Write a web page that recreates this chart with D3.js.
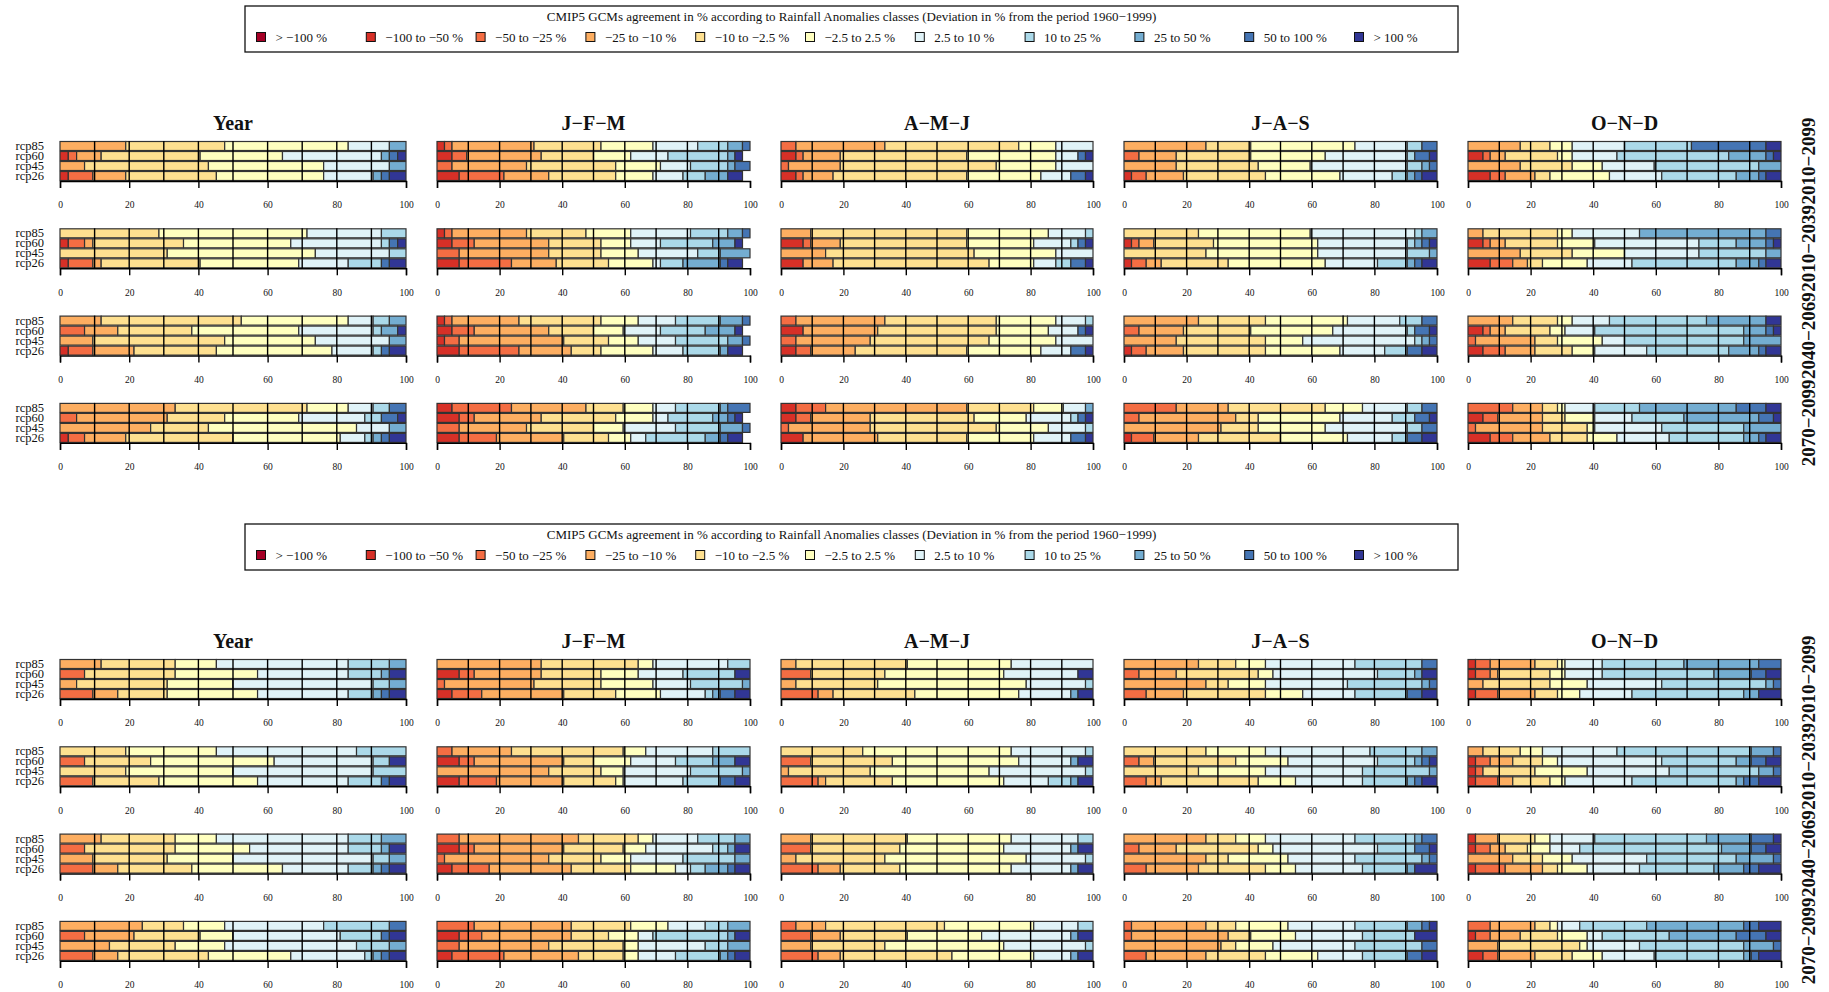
<!DOCTYPE html>
<html><head><meta charset="utf-8">
<script src="https://cdn.jsdelivr.net/npm/d3@7"></script>
<style>
body{margin:0;background:#fff}
svg{display:block}
text{font-family:"Liberation Serif","Times New Roman",serif;fill:#111}
</style>
</head><body>
<svg id="c" width="1829" height="992"></svg>
<script>
// ---------- categories / labels ----------
const classes = ["> −100 %","−100 to −50 %","−50 to −25 %","−25 to −10 %","−10 to −2.5 %","−2.5 to 2.5 %","2.5 to 10 %","10 to 25 %","25 to 50 %","50 to 100 %","> 100 %"];
const classColors = ["#a50026","#d73027","#f46d43","#fdae61","#fee090","#ffffbf","#e0f3f8","#abd9e9","#74add1","#4575b4","#313695"];
const seasons = ["Year","J−F−M","A−M−J","J−A−S","O−N−D"];
const periods = ["2010−2099","2010−2039","2040−2069","2070−2099"];
const scenarios = ["rcp85","rcp60","rcp45","rcp26"];
const xTicks = [0,20,40,60,80,100];
const xGrid = [10,20,30,40,50,60,70,80,90];
const legendTitle = "CMIP5 GCMs agreement in % according to Rainfall Anomalies classes (Deviation in % from the period 1960−1999)";

// ---------- data: cumulative % of GCMs reaching the upper end of each class ("class:cum%") ----------
// per season: 4 periods x 4 scenarios (rcp85, rcp60, rcp45, rcp26)
const topYear = [
 ["3:19 4:47.6 5:83.3 6:95.2 8:100","1:2.4 2:4.8 3:11.9 4:40.5 5:64.3 6:92.9 8:95.2 9:97.6 10:100","3:7.1 4:42.9 5:76.2 6:95.2 8:100","1:2.4 2:9.5 3:19 4:45.2 5:76.2 6:90.5 8:92.9 9:95.2 10:100"],
 ["4:28.6 5:71.4 6:92.9 7:100","1:2.4 2:7.1 3:9.5 4:35.7 5:66.7 6:92.9 7:95.2 9:97.6 10:100","4:31 5:73.8 6:95.2 7:100","1:2.4 2:9.5 3:11.9 4:40.5 5:69 6:83.3 7:92.9 9:95.2 10:100"],
 ["3:11.9 4:52.4 5:83.3 6:90.5 7:95.2 8:100","2:7.1 3:16.7 4:38.1 5:69 6:90.5 7:92.9 8:97.6 10:100","3:9.5 4:47.6 5:73.8 6:95.2 8:100","1:2.4 2:9.5 3:21.4 4:45.2 5:78.6 6:90.5 7:92.9 9:95.2 10:100"],
 ["3:33.3 4:71.4 5:83.3 6:90.5 7:95.2 9:100","2:4.8 3:31 4:47.6 5:69 6:88.1 7:92.9 9:97.6 10:100","3:26.2 4:42.9 5:85.7 6:95.2 8:100","1:2.4 2:7.1 3:19 4:50 5:81 6:88.1 7:90.5 8:92.9 9:95.2 10:100"]
];
const topJFM = [
 ["1:2.4 2:4.8 3:31 4:52.4 5:69 6:83.3 7:92.9 8:97.6 9:100","1:4.8 2:9.5 3:33.3 4:50 5:61.9 6:73.8 7:92.9 8:95.2 10:97.6","2:4.8 3:28.6 4:57.1 5:71.4 6:81 7:92.9 8:95.2 9:100","1:7.1 2:21.4 3:35.7 4:57.1 5:69 6:78.6 7:85.7 8:92.9 10:97.6"],
 ["1:2.4 2:4.8 3:28.6 4:47.6 5:61.9 6:81 7:92.9 8:97.6 9:100","1:4.8 2:11.9 3:35.7 4:52.4 5:61.9 6:71.4 7:88.1 8:95.2 10:97.6","2:7.1 3:35.7 4:52.4 5:64.3 6:83.3 7:90.5 8:100","1:7.1 2:23.8 3:38.1 4:54.8 5:69 6:71.4 7:78.6 8:90.5 9:92.9 10:97.6"],
 ["1:2.4 2:4.8 3:26.2 4:52.4 5:64.3 6:76.2 7:90.5 8:97.6 9:100","1:4.8 2:11.9 3:35.7 4:50 5:59.5 6:71.4 7:85.7 8:95.2 10:97.6","1:2.4 2:7.1 3:40.5 4:54.8 5:64.3 6:76.2 7:92.9 8:97.6 9:100","1:7.1 2:26.2 3:42.9 4:52.4 5:69 6:78.6 7:90.5 8:92.9 10:97.6"],
 ["1:4.8 2:23.8 3:47.6 4:59.5 5:69 6:76.2 7:90.5 8:92.9 9:100","1:7.1 2:11.9 3:33.3 4:57.1 5:69 6:73.8 7:88.1 8:92.9 9:95.2 10:97.6","2:7.1 3:28.6 4:50 5:59.5 6:76.2 7:90.5 8:97.6 9:100","1:7.1 2:19 3:40.5 4:54.8 5:61.9 6:66.7 7:85.7 8:90.5 9:92.9 10:97.6"]
];
const topAMJ = [
 ["2:4.8 3:33.3 4:76.2 5:88.1 6:100","1:4.8 2:7.1 3:19 4:59.5 5:88.1 6:95.2 9:97.6 10:100","2:2.4 3:19 4:69 5:88.1 6:100","1:4.8 2:7.1 3:16.7 4:59.5 5:83.3 6:92.9 9:97.6 10:100"],
 ["3:9.5 4:59.5 5:85.7 6:97.6 7:100","1:7.1 2:9.5 3:19 4:59.5 5:81 6:92.9 7:95.2 9:97.6 10:100","3:14.3 4:61.9 5:88.1 6:100","1:7.1 3:16.7 4:66.7 5:81 6:88.1 7:92.9 9:97.6 10:100"],
 ["2:4.8 3:33.3 4:69 5:88.1 6:97.6 7:100","1:7.1 3:31 4:69 5:85.7 6:95.2 9:97.6 10:100","2:4.8 3:28.6 4:66.7 5:88.1 6:100","1:4.8 2:9.5 3:23.8 4:59.5 5:83.3 6:92.9 9:97.6 10:100"],
 ["1:4.8 2:14.3 3:59.5 4:81 5:90.5 6:97.6 8:100","1:4.8 2:9.5 3:28.6 4:61.9 5:78.6 6:92.9 7:95.2 9:97.6 10:100","2:2.4 3:28.6 4:69 5:85.7 6:97.6 7:100","1:7.1 3:31 4:59.5 5:81 6:92.9 9:97.6 10:100"]
];
const topJAS = [
 ["3:26.2 4:40.5 5:73.8 6:90.5 7:95.2 9:100","2:4.8 3:16.7 4:40.5 5:64.3 6:90.5 7:92.9 9:97.6 10:100","3:16.7 4:42.9 5:59.5 6:90.5 7:95.2 8:97.6 9:100","1:2.4 2:7.1 3:19 4:45.2 5:69 6:85.7 7:90.5 8:92.9 9:95.2 10:100"],
 ["4:23.8 5:59.5 6:92.9 7:95.2 8:100","1:2.4 2:4.8 3:9.5 4:28.6 5:61.9 6:90.5 7:92.9 8:95.2 9:97.6 10:100","4:26.2 5:61.9 6:90.5 7:97.6 8:100","1:2.4 2:7.1 3:11.9 4:33.3 5:64.3 6:81 7:90.5 8:92.9 9:95.2 10:100"],
 ["3:23.8 4:45.2 5:71.4 6:88.1 7:95.2 9:100","2:4.8 3:19 4:40.5 5:66.7 6:90.5 7:92.9 9:97.6 10:100","3:16.7 4:45.2 5:57.1 6:92.9 7:95.2 8:97.6 9:100","1:2.4 2:7.1 3:19 4:45.2 5:69 6:83.3 7:90.5 9:95.2 10:100"],
 ["2:16.7 3:33.3 4:64.3 5:76.2 6:90.5 7:95.2 9:100","2:4.8 3:35.7 4:42.9 5:69 6:85.7 7:92.9 9:97.6 10:100","3:31 4:42.9 5:64.3 6:90.5 7:95.2 9:100","1:2.4 2:9.5 3:23.8 4:50 5:71.4 6:85.7 7:90.5 9:95.2 10:100"]
];
const topOND = [
 ["3:16.7 4:26.2 5:33.3 6:50 7:71.4 9:95.2 10:100","1:4.8 2:7.1 3:11.9 4:28.6 5:33.3 6:47.6 7:83.3 8:95.2 9:97.6 10:100","3:16.7 4:33.3 5:42.9 6:59.5 7:92.9 8:100","1:7.1 2:11.9 3:21.4 4:26.2 5:45.2 6:61.9 7:85.7 8:92.9 9:95.2 10:100"],
 ["3:4.8 4:28.6 5:33.3 6:54.8 8:95.2 9:100","1:4.8 2:7.1 3:11.9 4:28.6 5:40.5 6:73.8 7:85.7 8:95.2 9:97.6 10:100","3:16.7 4:33.3 5:50 6:73.8 7:95.2 8:100","1:7.1 2:14.3 3:19 4:23.8 5:38.1 6:52.4 7:85.7 8:92.9 9:95.2 10:100"],
 ["3:14.3 4:28.6 5:33.3 6:45.2 7:76.2 8:95.2 10:100","1:4.8 2:7.1 3:11.9 4:26.2 5:31 6:40.5 7:88.1 8:95.2 9:97.6 10:100","2:2.4 3:21.4 4:28.6 5:42.9 6:50 7:88.1 8:100","1:4.8 2:11.9 3:21.4 4:33.3 5:40.5 6:57.1 7:83.3 8:92.9 9:95.2 10:100"],
 ["2:14.3 3:23.8 4:28.6 5:31 6:40.5 7:54.8 8:85.7 9:95.2 10:100","1:4.8 2:9.5 3:23.8 4:31 5:40.5 6:52.4 7:69 8:92.9 9:97.6 10:100","2:2.4 3:23.8 4:38.1 5:40.5 6:61.9 7:88.1 8:100","1:7.1 2:14.3 3:26.2 4:38.1 5:47.6 6:64.3 7:88.1 8:92.9 9:95.2 10:100"]
];
const botYear = [
 ["3:11.9 4:33.3 5:45.2 6:83.3 7:95.2 8:100","2:7.1 4:33.3 5:57.1 6:83.3 7:92.9 8:95.2 10:100","3:4.8 4:31 5:50 6:90.5 7:95.2 8:100","2:9.5 3:16.7 4:31 5:57.1 6:83.3 7:90.5 8:92.9 9:95.2 10:100"],
 ["4:19 5:45.2 6:85.7 7:100","2:7.1 4:26.2 5:61.9 6:90.5 7:95.2 10:100","4:19 5:50 6:90.5 7:100","2:9.5 4:28.6 5:57.1 6:83.3 7:92.9 9:95.2 10:100"],
 ["3:11.9 4:33.3 5:45.2 6:83.3 7:92.9 8:100","2:7.1 4:33.3 5:54.8 6:83.3 7:92.9 8:95.2 10:100","3:9.5 4:31 5:50 6:90.5 7:95.2 8:100","2:9.5 3:16.7 4:38.1 5:64.3 6:83.3 7:90.5 8:92.9 9:95.2 10:100"],
 ["3:23.8 4:35.7 5:47.6 6:76.2 7:95.2 9:100","2:7.1 3:21.4 4:40.5 5:50 6:81 7:92.9 9:95.2 10:100","3:14.3 4:33.3 5:47.6 6:85.7 7:95.2 8:100","2:9.5 3:16.7 4:42.9 5:66.7 6:88.1 7:90.5 8:92.9 9:95.2 10:100"]
];
const botJFM = [
 ["3:33.3 4:64.3 5:69 6:92.9 7:100","1:7.1 2:11.9 3:33.3 4:52.4 5:64.3 6:78.6 7:95.2 10:100","2:2.4 3:31 4:52.4 5:69 6:81 7:97.6 8:100","1:4.8 2:14.3 3:40.5 4:57.1 5:71.4 6:85.7 7:88.1 8:90.5 9:95.2 10:100"],
 ["2:4.8 3:23.8 4:59.5 5:66.7 6:88.1 7:100","1:7.1 2:11.9 3:40.5 4:50 5:61.9 6:76.2 7:88.1 8:95.2 10:100","3:35.7 4:52.4 5:59.5 6:81 7:97.6 8:100","1:7.1 2:19 3:40.5 4:57.1 5:59.5 6:78.6 7:90.5 9:95.2 10:100"],
 ["2:7.1 3:45.2 4:64.3 5:69 6:83.3 7:95.2 8:100","1:7.1 2:11.9 3:40.5 4:59.5 5:66.7 6:88.1 7:92.9 8:95.2 10:100","2:2.4 3:35.7 4:52.4 5:61.9 6:78.6 7:95.2 8:100","1:4.8 2:16.7 3:42.9 4:61.9 5:76.2 6:81 7:85.7 8:92.9 9:95.2 10:100"],
 ["2:11.9 3:42.9 4:61.9 5:73.8 6:85.7 7:92.9 8:100","1:7.1 2:14.3 3:42.9 4:54.8 5:64.3 6:69 7:92.9 8:95.2 10:100","2:7.1 3:35.7 4:59.5 5:64.3 6:85.7 7:92.9 8:100","1:4.8 2:21.4 3:45.2 4:59.5 5:64.3 6:76.2 7:90.5 8:92.9 9:95.2 10:100"]
];
const botAMJ = [
 ["3:4.8 4:40.5 5:73.8 6:100","2:9.5 4:33.3 5:71.4 6:95.2 10:100","3:4.8 4:31 5:78.6 6:97.6 7:100","2:11.9 3:16.7 4:42.9 5:76.2 6:92.9 8:95.2 10:100"],
 ["4:26.2 5:73.8 6:97.6 7:100","2:9.5 4:35.7 5:76.2 6:92.9 8:95.2 10:100","3:2.4 4:28.6 5:66.7 6:97.6 7:100","2:11.9 3:14.3 4:35.7 5:71.4 6:85.7 7:92.9 8:95.2 10:100"],
 ["3:9.5 4:40.5 5:73.8 6:95.2 7:100","2:9.5 4:38.1 5:71.4 6:92.9 8:95.2 10:100","3:4.8 4:33.3 5:78.6 6:97.6 7:100","2:11.9 3:19 4:38.1 5:73.8 6:92.9 8:95.2 10:100"],
 ["2:4.8 3:14.3 4:52.4 5:81 6:95.2 7:100","2:9.5 3:19 4:40.5 5:64.3 6:92.9 8:95.2 10:100","3:9.5 4:33.3 5:71.4 6:97.6 7:100","2:11.9 3:19 4:54.8 5:81 6:92.9 8:95.2 10:100"]
];
const botJAS = [
 ["3:23.8 4:35.7 5:45.2 6:73.8 7:95.2 9:100","2:4.8 3:16.7 4:42.9 5:47.6 6:81 7:92.9 8:95.2 10:100","3:26.2 4:33.3 5:45.2 6:71.4 7:95.2 8:97.6 9:100","2:7.1 3:19 4:45.2 5:57.1 6:73.8 7:90.5 9:95.2 10:100"],
 ["4:26.2 5:45.2 6:78.6 7:95.2 8:100","2:4.8 3:9.5 4:35.7 5:52.4 6:81 7:92.9 8:95.2 9:97.6 10:100","4:23.8 5:45.2 6:76.2 7:97.6 8:100","2:7.1 3:11.9 4:42.9 5:54.8 6:76.2 7:90.5 8:92.9 9:95.2 10:100"],
 ["3:26.2 4:35.7 5:45.2 6:73.8 7:92.9 8:95.2 9:100","2:4.8 3:16.7 4:42.9 5:47.6 6:81 7:92.9 9:97.6 10:100","3:26.2 4:33.3 5:52.4 6:73.8 7:95.2 8:97.6 9:100","2:7.1 3:23.8 4:45.2 5:54.8 6:76.2 7:90.5 8:92.9 10:100"],
 ["2:2.4 3:26.2 4:35.7 5:52.4 6:73.8 7:90.5 8:95.2 9:97.6 10:100","2:2.4 3:33.3 4:40.5 5:54.8 6:76.2 7:92.9 10:100","3:31 4:35.7 5:47.6 6:73.8 7:95.2 9:100","2:7.1 3:26.2 4:45.2 5:61.9 6:76.2 7:90.5 9:95.2 10:100"]
];
const botOND = [
 ["1:2.4 2:7.1 3:21.4 4:28.6 5:31 6:42.9 7:69 8:92.9 9:100","1:2.4 2:7.1 3:9.5 4:26.2 5:31 6:42.9 7:78.6 8:90.5 9:95.2 10:100","3:4.8 4:26.2 5:38.1 6:61.9 7:95.2 8:97.6 9:100","1:2.4 2:9.5 3:21.4 4:28.6 5:35.7 6:52.4 7:88.1 8:92.9 10:100"],
 ["3:4.8 4:16.7 5:23.8 6:47.6 7:90.5 8:97.6 9:100","1:2.4 2:7.1 3:14.3 4:23.8 5:28.6 6:61.9 7:85.7 8:90.5 9:95.2 10:100","1:2.4 2:4.8 4:21.4 5:38.1 6:64.3 7:92.9 8:97.6 9:100","1:2.4 2:9.5 3:14.3 4:26.2 5:31 6:52.4 7:85.7 8:88.1 9:92.9 10:100"],
 ["1:2.4 3:9.5 4:21.4 5:26.2 6:40.5 7:76.2 8:90.5 9:97.6 10:100","1:2.4 2:7.1 3:11.9 4:19 5:26.2 6:35.7 7:81 8:90.5 9:95.2 10:100","3:14.3 4:23.8 5:33.3 6:57.1 7:85.7 8:97.6 9:100","1:2.4 2:11.9 3:23.8 4:28.6 5:38.1 6:54.8 7:78.6 8:88.1 9:92.9 10:100"],
 ["2:7.1 3:21.4 4:26.2 5:28.6 6:35.7 7:57.1 8:88.1 9:92.9 10:100","1:2.4 2:7.1 3:16.7 4:28.6 5:38.1 6:42.9 7:64.3 8:85.7 9:95.2 10:100","3:9.5 4:35.7 5:38.1 6:54.8 7:88.1 8:97.6 9:100","1:4.8 2:9.5 3:21.4 4:33.3 5:42.9 6:59.5 7:88.1 8:90.5 9:92.9 10:100"]
];

// ---------- layout ----------
const halves = [
  {dy: 0,   panels: [topYear, topJFM, topAMJ, topJAS, topOND]},
  {dy: 518, panels: [botYear, botJFM, botAMJ, botJAS, botOND]}
];
const panelX = [[60,406],[437,750],[781,1093],[1124,1437],[1468,1781]];
const firstRowTop = 141, rowStep = 87.3, blockH = 40;

const svg = d3.select("#c");

// parse "class:cum" strings into 11 class shares
function shares(str){
  const s = new Array(classes.length).fill(0);
  let prev = 0;
  str.trim().split(/\s+/).forEach(tok => {
    const [k, v] = tok.split(":").map(Number);
    s[k] = Math.max(0, v - prev); prev = v;
  });
  return s;
}
const keys = d3.range(classes.length);
const stack = d3.stack().keys(keys);

function drawLegend(g){
  const bx0 = 245, bx1 = 1458, by0 = 6, by1 = 52;
  g.append("rect").attr("x",bx0).attr("y",by0).attr("width",bx1-bx0).attr("height",by1-by0)
    .attr("fill","none").attr("stroke","#111").attr("stroke-width",1.3);
  g.append("text").attr("x",(bx0+bx1)/2).attr("y",20.5).attr("text-anchor","middle")
    .attr("font-size",13).text(legendTitle);
  const lx = d3.scaleLinear().domain([0, classes.length-1]).range([256.5, 256.5 + 109.8*(classes.length-1)]);
  const items = g.selectAll("g.li").data(classes).join("g").attr("class","li")
    .attr("transform",(d,i)=>`translate(${lx(i)},37)`);
  items.append("rect").attr("x",0).attr("y",-4.5).attr("width",9).attr("height",9)
    .attr("fill",(d,i)=>classColors[i]).attr("stroke","#111").attr("stroke-width",1);
  items.append("text").attr("x",19).attr("y",4.5).attr("font-size",13).text(d=>d);
}

halves.forEach(half => {
  const hg = svg.append("g").attr("transform",`translate(0,${half.dy})`);
  drawLegend(hg.append("g"));

  half.panels.forEach((panel, si) => {
    const [x0, x1] = panelX[si];
    const x = d3.scaleLinear().domain([0,100]).range([x0, x1]);
    hg.append("text").attr("x",(x0+x1)/2).attr("y",130).attr("text-anchor","middle")
      .attr("font-size",20).attr("font-weight","bold").text(seasons[si]);

    panel.forEach((bars, pi) => {
      const top = firstRowTop + pi*rowStep;
      const y = d3.scaleBand().domain(scenarios).range([top, top+blockH]).padding(0);
      const rows = bars.map((str, bi) => {
        const o = {scenario: scenarios[bi]};
        shares(str).forEach((v,k)=>o[k]=v);
        return o;
      });
      const series = stack(rows);
      const pg = hg.append("g");
      pg.selectAll("g.s").data(series).join("g").attr("class","s")
        .attr("fill", d => classColors[d.key])
        .selectAll("rect").data(d => d.filter(e => e[1]-e[0] > 0.01)).join("rect")
        .attr("x", d => x(d[0])).attr("width", d => x(d[1]) - x(d[0]))
        .attr("y", d => y(d.data.scenario)+0.5).attr("height", y.bandwidth()-1)
        .attr("stroke","#333").attr("stroke-width",1.2);
      // grid lines
      pg.selectAll("line.g").data(xGrid).join("line")
        .attr("x1",d=>x(d)).attr("x2",d=>x(d)).attr("y1",top).attr("y2",top+blockH)
        .attr("stroke","#000").attr("stroke-width",1.4);
      // axis
      const ax = pg.append("g").attr("transform",`translate(0,${top+blockH})`)
        .call(d3.axisBottom(x).tickValues(xTicks).tickSize(7).tickPadding(13.5).tickFormat(d3.format("d")));
      ax.select(".domain").attr("stroke","#000").attr("stroke-width",1.4);
      ax.selectAll(".tick line").attr("stroke","#000").attr("stroke-width",1.4);
      ax.selectAll(".tick text").attr("font-family","Liberation Serif, serif").attr("font-size",9.5).attr("fill","#444");
      // scenario labels on first column
      if (si === 0) {
        pg.selectAll("text.sc").data(scenarios).join("text").attr("class","sc")
          .attr("x",44).attr("y",d=>y(d)+y.bandwidth()/2+4).attr("text-anchor","end")
          .attr("font-size",12.5).text(d=>d);
      }
      // period labels on the right
      if (si === seasons.length-1) {
        hg.append("text").attr("transform",`translate(1808,${top+blockH/2}) rotate(-90)`)
          .attr("text-anchor","middle").attr("dominant-baseline","central")
          .attr("font-size",19).attr("font-weight","bold").text(periods[pi]);
      }
    });
  });
});
</script>
</body></html>
